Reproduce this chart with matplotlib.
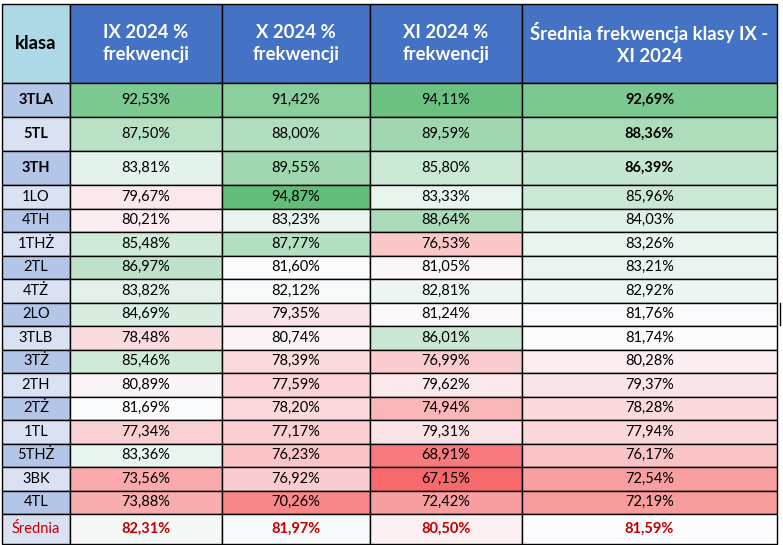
import numpy as np
import matplotlib
matplotlib.use("Agg")
import matplotlib.pyplot as plt
from matplotlib.colors import LinearSegmentedColormap, TwoSlopeNorm
from matplotlib.patches import Rectangle

plt.rcParams['font.family'] = ['Lato', 'DejaVu Sans']

# dane z tabeli frekwencji
naglowki = ["klasa", "IX 2024 %\nfrekwencji", "X 2024 %\nfrekwencji",
            "XI 2024 %\nfrekwencji", "Średnia frekwencja klasy IX -\nXI 2024"]
klasy = ["3TLA", "5TL", "3TH", "1LO", "4TH", "1THŻ", "2TL", "4TŻ", "2LO",
         "3TLB", "3TŻ", "2TH", "2TŻ", "1TL", "5THŻ", "3BK", "4TL"]
ix_2024 = [92.53, 87.50, 83.81, 79.67, 80.21, 85.48, 86.97, 83.82, 84.69,
           78.48, 85.46, 80.89, 81.69, 77.34, 83.36, 73.56, 73.88]
x_2024 = [91.42, 88.00, 89.55, 94.87, 83.23, 87.77, 81.60, 82.12, 79.35,
          80.74, 78.39, 77.59, 78.20, 77.17, 76.23, 76.92, 70.26]
xi_2024 = [94.11, 89.59, 85.80, 83.33, 88.64, 76.53, 81.05, 82.81, 81.24,
           86.01, 76.99, 79.62, 74.94, 79.31, 68.91, 67.15, 72.42]
srednia_klasy = [92.69, 88.36, 86.39, 85.96, 84.03, 83.26, 83.21, 82.92, 81.76,
                 81.74, 80.28, 79.37, 78.28, 77.94, 76.17, 72.54, 72.19]
srednia_wiersz = [82.31, 81.97, 80.50, 81.59]
wyroznione = 3  # pierwsze 3 klasy pogrubione

kolumny = [ix_2024, x_2024, xi_2024, srednia_klasy]
wartosci = np.array([c + [s] for c, s in zip(kolumny, srednia_wiersz)]).T

# skala kolorow jak w Excelu (czerwony - bialy - zielony)
cmap = LinearSegmentedColormap.from_list("excel", ["#F8696B", "#FCFCFF", "#63BE7B"])
norm = TwoSlopeNorm(vmin=wartosci.min(), vcenter=np.median(wartosci), vmax=wartosci.max())

fig = plt.figure(figsize=(7.83, 5.45), dpi=100)
ax = fig.add_axes([0, 0, 1, 1])
ax.set_xlim(0, 783)
ax.set_ylim(545, 0)
ax.axis('off')

xs = [2, 70, 222, 370, 522, 777]
wys = [79] + [34] * 3 + [23.5] * 14 + [30]
ys = np.concatenate([[4], 4 + np.cumsum(wys)])

def komorka(c, r, kolor):
    ax.add_patch(Rectangle((xs[c], ys[r]), xs[c + 1] - xs[c], ys[r + 1] - ys[r],
                           facecolor=kolor, edgecolor='black', linewidth=1.0))

def srodek(c, r):
    return (xs[c] + xs[c + 1]) / 2, (ys[r] + ys[r + 1]) / 2

def fmt(v):
    return f"{v:.2f}%".replace(".", ",")

# naglowek
komorka(0, 0, "#ADD8E6")
cx, cy = srodek(0, 0)
ax.text(cx, cy, naglowki[0], ha='center', va='center', fontsize=13.3,
        fontweight='bold', color='black')
for c in range(1, 5):
    komorka(c, 0, "#4472C4")
    cx, cy = srodek(c, 0)
    ax.text(cx, cy, naglowki[c], ha='center', va='center', fontsize=13.3,
            fontweight='bold', color='white', linespacing=1.3)

# wiersze klas
for i, k in enumerate(klasy):
    r = i + 1
    bold = 'bold' if i < wyroznione else 'normal'
    komorka(0, r, "#B4C6E7" if i % 2 == 0 else "#D9E1F2")
    cx, cy = srodek(0, r)
    ax.text(cx, cy, k, ha='center', va='center', fontsize=10.5, fontweight=bold)
    for c in range(4):
        v = wartosci[i, c]
        komorka(c + 1, r, cmap(norm(v)))
        cx, cy = srodek(c + 1, r)
        w = bold if c == 3 else 'normal'
        ax.text(cx, cy, fmt(v), ha='center', va='center', fontsize=10.5, fontweight=w)

# wiersz sredniej
r = len(klasy) + 1
komorka(0, r, "#D9E1F2")
cx, cy = srodek(0, r)
ax.text(cx, cy, "Średnia", ha='center', va='center', fontsize=10.5, color='#C00000')
for c in range(4):
    v = wartosci[-1, c]
    komorka(c + 1, r, cmap(norm(v)))
    cx, cy = srodek(c + 1, r)
    ax.text(cx, cy, fmt(v), ha='center', va='center', fontsize=10.5,
            fontweight='bold', color='#C00000')

# kursor przy komorce
ax.plot([779.5, 779.5], [303, 325], color='black', linewidth=1)

fig.savefig("out.png", dpi=100)
